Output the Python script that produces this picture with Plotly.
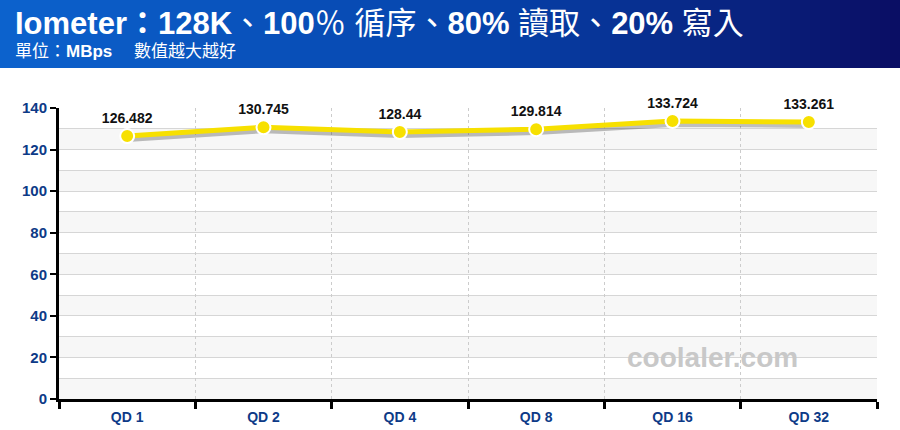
import plotly.graph_objects as go

categories = ["QD 1", "QD 2", "QD 4", "QD 8", "QD 16", "QD 32"]
values = [126.482, 130.745, 128.44, 129.814, 133.724, 133.261]
value_labels = ["126.482", "130.745", "128.44", "129.814", "133.724", "133.261"]
title_parts = [("Iometer：128K", True), ("、", False), ("100", True), ("％ 循序、", False),
               ("80%", True), (" 讀取、", False), ("20%", True), (" 寫入", False)]
subtitle_parts = [("單位：", False), ("MBps", True), ("　 數值越大越好", False)]

FONT = "Liberation Sans, Arial, Noto Sans CJK TC, sans-serif"
TICKCOL = "#0d3a87"

def markup(parts):
    return "".join("<b>%s</b>" % s if b else s for s, b in parts)

fig = go.Figure()

# shadow of line
fig.add_trace(go.Scatter(
    x=categories, y=[v - 1.4 for v in values], mode="lines",
    line=dict(color="rgba(0,0,0,0.25)", width=6),
    hoverinfo="skip", showlegend=False, cliponaxis=False))

fig.add_trace(go.Scatter(
    x=categories, y=values, mode="lines+markers+text",
    line=dict(color="#f7e000", width=5),
    marker=dict(color="#f7e000", size=14, line=dict(color="white", width=2)),
    text=value_labels, textposition="top center",
    textfont=dict(family=FONT, size=14, color="#111111", weight="bold"),
    showlegend=False, cliponaxis=False))

shapes = []
# header gradient
n = 90
def lerp(a, b, t):
    return tuple(int(round(a[i] + (b[i] - a[i]) * t)) for i in range(3))
c0 = (12, 98, 205)
c1 = (6, 66, 170)
c2 = (10, 14, 100)
for i in range(n):
    t = i / (n - 1)
    if t < 0.55:
        c = lerp(c0, c1, t / 0.55)
    else:
        c = lerp(c1, c2, (t - 0.55) / 0.45)
    shapes.append(dict(type="rect", xref="paper", yref="paper",
                       x0=(-59 + 900 * i / n) / 818, x1=(-59 + 900 * (i + 1) / n + 1) / 818,
                       y0=(430 - 68 - 31) / 291, y1=(430 - 31) / 291,
                       fillcolor="rgb(%d,%d,%d)" % c, line=dict(width=0), layer="below"))
# alternating bands
for lo in range(0, 140, 20):
    shapes.append(dict(type="rect", xref="paper", yref="y", x0=0, x1=1,
                       y0=lo, y1=lo + 10, fillcolor="#f7f7f7",
                       line=dict(width=0), layer="below"))

fig.update_layout(
    width=900, height=430,
    margin=dict(l=59, r=23, t=108, b=31, autoexpand=False),
    paper_bgcolor="white", plot_bgcolor="white",
    shapes=shapes,
    font=dict(family=FONT),
    annotations=[
        dict(text=markup(title_parts), xref="paper", yref="paper",
             x=-46 / 818, y=(430 - 31 - 24) / 291, xanchor="left", yanchor="middle",
             showarrow=False, font=dict(family=FONT, size=31, color="white")),
        dict(text=markup(subtitle_parts), xref="paper", yref="paper",
             x=-46 / 818, y=(430 - 31 - 51) / 291, xanchor="left", yanchor="middle",
             showarrow=False, font=dict(family=FONT, size=17, color="white")),
        dict(text="<b>coolaler.com</b>", xref="paper", yref="paper",
             x=(712 - 59) / 818, y=(399 - 357) / 291, xanchor="center", yanchor="middle",
             showarrow=False, font=dict(family=FONT, size=28, color="#c8c8c8")),
    ],
)

fig.update_xaxes(
    type="category", range=[-0.5, 5.5], tickson="boundaries",
    showgrid=True, gridcolor="#cccccc", griddash="dot", gridwidth=1,
    showline=True, linecolor="black", linewidth=3,
    ticks="outside", ticklen=7, tickwidth=3, tickcolor="black",
    ticklabelstandoff=3, automargin=False,
    tickfont=dict(family=FONT, size=14, color=TICKCOL, weight="bold"),
    fixedrange=True, zeroline=False,
)
fig.update_yaxes(
    range=[0, 140], dtick=20, tick0=0, automargin=False,
    showgrid=True, gridcolor="#d6d6d6", gridwidth=1,
    minor=dict(dtick=10, showgrid=True, gridcolor="#d6d6d6", gridwidth=1),
    showline=True, linecolor="black", linewidth=3,
    ticks="outside", ticklen=6, tickwidth=2, tickcolor="black",
    tickfont=dict(family=FONT, size=15, color=TICKCOL, weight="bold"),
    zeroline=False, fixedrange=True,
)

fig.write_html("out.html")
